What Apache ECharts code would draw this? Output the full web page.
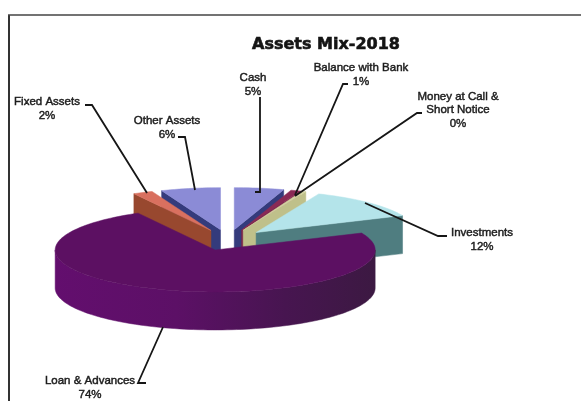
<!DOCTYPE html>
<html>
<head>
<meta charset="utf-8">
<style>html,body{margin:0;padding:0;background:#fff}#chart{width:581px;height:401px}</style>
<script src="https://cdn.jsdelivr.net/npm/echarts@6/dist/echarts.min.js"></script>
</head>
<body>
<div id="chart"></div>
<script>
// Asset shares in percent, clockwise from twelve o'clock.
const categories = ['Cash', 'Balance with Bank', 'Money at Call &\nShort Notice', 'Investments', 'Loan & Advances', 'Fixed Assets', 'Other Assets'];
const shares = [5, 1, 0.4, 12, 73.6, 2, 6];

// Back-to-front paint order of the wedges.
const paintOrder = [6, 0, 5, 1, 2, 3, 4];

const wedgeColors = [
  { top: '#8b8bd6', cut: '#343b7c', rim: '#343b7c' },
  { top: '#8a2a55', cut: '#7c2448', rim: '#7c2448' },
  { top: '#d2d2a0', cut: '#bfc08a', rim: '#bfc08a' },
  { top: '#b4e4ea', cut: '#4f7d80', rim: '#4f7d80' },
  { top: '#5c1062', cut: '#4a1150', rim: null },
  { top: '#d9705f', cut: '#98482f', rim: '#98482f' },
  { top: '#8b8bd6', cut: '#343b7c', rim: '#343b7c' }
];

// Pie projection: an ellipse seen from above, extruded downward.
const pie = { cx: 228, cy: 240, rx: 160, ry: 42, depth: 38, explode: 0.25 };

// Label centres and the elbowed leader that ties each one to its wedge.
const labelLayout = [
  { x: 253, y: 85, leader: [[260, 97], [260, 192], [255, 192]] },
  { x: 361, y: 75, leader: [[348, 84], [343, 84], [295, 195]] },
  { x: 458, y: 110, leader: [[422, 113], [417, 113], [295, 196]] },
  { x: 482, y: 240, leader: [[447, 236], [438, 236], [365, 203]] },
  { x: 90, y: 388, leader: [[146, 383], [138, 383], [163, 327]] },
  { x: 47, y: 109, leader: [[85, 105], [92, 105], [147, 193]] },
  { x: 167, y: 128, leader: [[178, 137], [185, 137], [195, 190]] }
];

const total = shares.reduce((a, b) => a + b, 0);
const spans = [];
shares.reduce((sum, v, i) => {
  spans[i] = [sum / total * 2 * Math.PI, (sum + v) / total * 2 * Math.PI];
  return sum + v;
}, 0);

function wedgeChildren(i) {
  const [a0, a1] = spans[i];
  const mid = (a0 + a1) / 2;
  const ox = pie.cx + pie.explode * pie.rx * Math.sin(mid);
  const oy = pie.cy - pie.explode * pie.ry * Math.cos(mid);
  const at = (a) => [ox + pie.rx * Math.sin(a), oy - pie.ry * Math.cos(a)];
  const drop = (p) => [p[0], p[1] + pie.depth];
  const arc = (from, to) => {
    const n = Math.max(2, Math.ceil(Math.abs(to - from) / 0.03));
    const pts = [];
    for (let k = 0; k <= n; k++) pts.push(at(from + (to - from) * k / n));
    return pts;
  };
  const c = wedgeColors[i];
  const apex = [ox, oy];
  const out = [];
  const poly = (points, fill) => out.push({
    type: 'polygon',
    shape: { points },
    style: { fill, stroke: fill, lineWidth: 0.5 }
  });

  // Cut faces that turn toward the viewer.
  if (Math.sin(a0) < 0) poly([apex, at(a0), drop(at(a0)), drop(apex)], c.cut);
  if (Math.sin(a1) > 0) poly([apex, at(a1), drop(at(a1)), drop(apex)], c.cut);

  // Outer wall, only on the near half of the ellipse.
  const r0 = Math.max(a0, Math.PI / 2);
  const r1 = Math.min(a1, Math.PI * 3 / 2);
  if (r1 > r0) {
    const rimTop = arc(r0, r1);
    const rimFill = c.rim || {
      type: 'linear', x: 1, y: 0, x2: 0, y2: 0,
      colorStops: [
        { offset: 0, color: '#3c1942' },
        { offset: 0.28, color: '#471550' },
        { offset: 0.62, color: '#5c1066' },
        { offset: 1, color: '#630e6e' }
      ]
    };
    poly(rimTop.concat(rimTop.map(drop).reverse()), rimFill);
  }

  // Top face.
  poly([apex].concat(arc(a0, a1)), c.top);
  return out;
}

const chart = echarts.init(document.getElementById('chart'), null, { renderer: 'canvas' });

const labelFont = '11.5px "Liberation Sans", Arial, sans-serif';

chart.setOption({
  backgroundColor: '#ffffff',
  animation: false,
  title: {
    text: 'Assets Mix-2018',
    left: 321,
    top: 32,
    textAlign: 'center',
    textStyle: {
      fontFamily: '"DejaVu Sans", sans-serif',
      fontWeight: 'bold',
      fontSize: 16,
      color: '#141414',
      textBorderColor: '#141414',
      textBorderWidth: 0.6
    }
  },
  graphic: [
    { type: 'line', shape: { x1: 9, y1: 15, x2: 9, y2: 401 }, style: { stroke: '#333', lineWidth: 2 } },
    { type: 'line', shape: { x1: 8, y1: 15, x2: 581, y2: 15 }, style: { stroke: '#444', lineWidth: 1.4 } }
  ],
  series: [
    {
      type: 'custom',
      coordinateSystem: 'none',
      silent: true,
      z: 2,
      data: paintOrder.map((i) => ({ name: categories[i], value: [i, shares[i]] })),
      renderItem: (params, api) => ({ type: 'group', children: wedgeChildren(api.value(0)) })
    },
    {
      type: 'custom',
      coordinateSystem: 'none',
      silent: true,
      z: 3,
      data: categories.map((name, i) => ({ name, value: [i, shares[i]] })),
      renderItem: (params, api) => {
        const i = api.value(0);
        const l = labelLayout[i];
        return {
          type: 'group',
          children: [
            {
              type: 'polyline',
              shape: { points: l.leader },
              style: { stroke: '#161616', lineWidth: 1.8, fill: 'none' }
            },
            {
              type: 'text',
              x: l.x,
              y: l.y,
              style: {
                text: categories[i] + '\n' + Math.round(api.value(1)) + '%',
                font: labelFont,
                fill: '#1c1c1c',
                stroke: '#1c1c1c',
                lineWidth: 0.45,
                lineHeight: 13.5,
                align: 'center',
                verticalAlign: 'middle'
              }
            }
          ]
        };
      }
    }
  ]
});
</script>
</body>
</html>
